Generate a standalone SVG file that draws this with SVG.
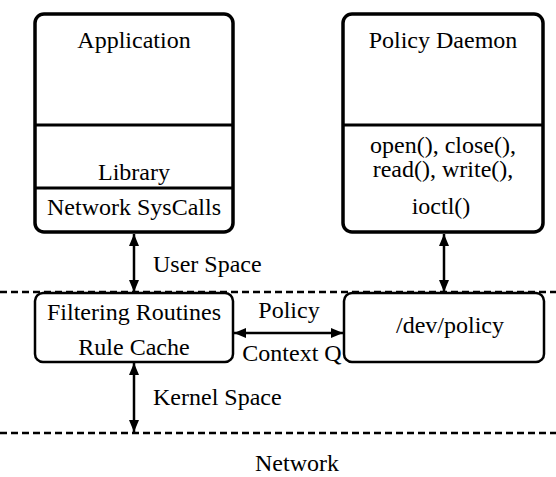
<svg xmlns="http://www.w3.org/2000/svg" width="556" height="477" viewBox="0 0 556 477" font-family="'Liberation Serif', 'Times New Roman', 'DejaVu Serif', serif" font-size="24">
<style>
text{font-family:'Liberation Serif','Times New Roman','DejaVu Serif',serif;font-size:24px;fill:#000}
.c{text-anchor:middle}
.big{fill:#fff;stroke:#000;stroke-width:3.5}
.small{fill:#fff;stroke:#000;stroke-width:2.5}
.div{stroke:#000;stroke-width:3}
.dash{stroke:#000;stroke-width:2.5;stroke-dasharray:7 4;fill:none}
.conn{stroke:#000;stroke-width:2.5;fill:none}
</style>
<defs>
<marker id="ah" viewBox="0 0 12 10" refX="12" refY="5" markerWidth="12" markerHeight="10" markerUnits="userSpaceOnUse" orient="auto-start-reverse">
<path d="M0,0 L12,5 L0,10 Z" fill="#000"/>
</marker>
</defs>
<rect width="556" height="477" fill="#fff"/>
<g id="boundaries">
<line class="dash" x1="0" y1="292" x2="556" y2="292"/>
<line class="dash" x1="0" y1="433" x2="556" y2="433"/>
</g>
<g id="connectors">
<line class="conn" x1="134" y1="234" x2="134" y2="292" marker-start="url(#ah)" marker-end="url(#ah)"/>
<line class="conn" x1="444" y1="234" x2="444" y2="292" marker-start="url(#ah)" marker-end="url(#ah)"/>
<line class="conn" x1="134" y1="363" x2="134" y2="432" marker-start="url(#ah)" marker-end="url(#ah)"/>
<line class="conn" x1="234" y1="333" x2="343" y2="333" marker-start="url(#ah)" marker-end="url(#ah)"/>
<text x="153" y="272">User Space</text>
<text x="153" y="405">Kernel Space</text>
<text class="c" x="289" y="318">Policy</text>
<text class="c" x="292" y="361">Context Q</text>
</g>
<g id="application">
<rect class="big" x="35" y="14" width="198" height="218" rx="9"/>
<line class="div" x1="35" y1="125" x2="233" y2="125"/>
<line class="div" x1="35" y1="188" x2="233" y2="188"/>
<text class="c" x="134" y="48">Application</text>
<text class="c" x="134" y="180">Library</text>
<text class="c" x="134" y="215">Network SysCalls</text>
</g>
<g id="policy-daemon">
<rect class="big" x="343" y="14" width="200" height="218" rx="9"/>
<line class="div" x1="343" y1="125" x2="543" y2="125"/>
<text class="c" x="443" y="48">Policy Daemon</text>
<text class="c" x="443" y="153">open(), close(),</text>
<text class="c" x="443" y="177">read(), write(),</text>
<text class="c" x="441" y="214">ioctl()</text>
</g>
<g id="filtering">
<rect class="small" x="35" y="293" width="198" height="69" rx="8"/>
<text class="c" x="134" y="320">Filtering Routines</text>
<text class="c" x="134" y="355">Rule Cache</text>
</g>
<g id="dev-policy">
<rect class="small" x="344" y="293" width="200" height="69" rx="8"/>
<text class="c" x="450" y="333">/dev/policy</text>
</g>
<g id="network">
<text class="c" x="297" y="471">Network</text>
</g>
</svg>
